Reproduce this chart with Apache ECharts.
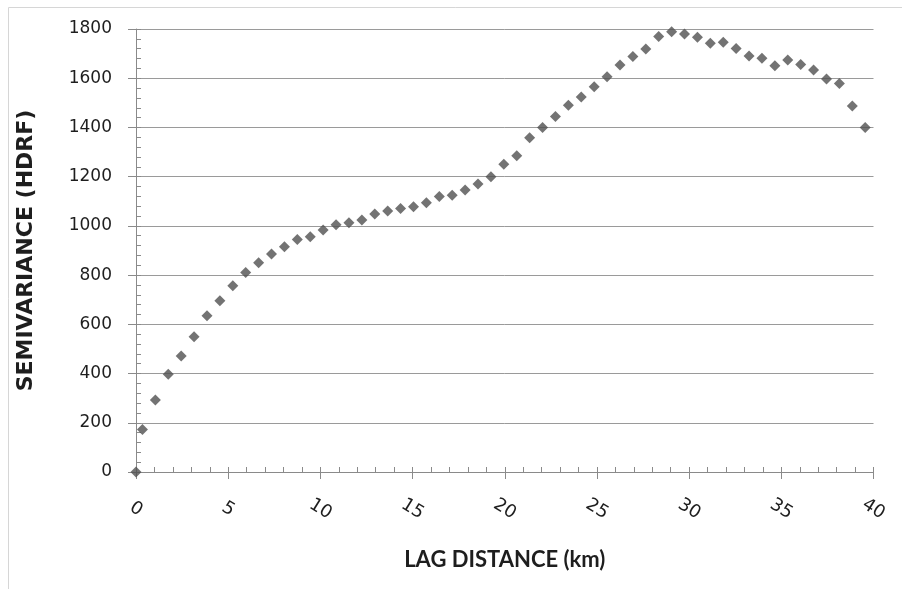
<!DOCTYPE html>
<html>
<head>
<meta charset="utf-8">
<title>Semivariogram</title>
<script src="https://cdn.jsdelivr.net/npm/echarts@6.0.0/dist/echarts.min.js"></script>
<style>
  html, body { margin: 0; padding: 0; background: #ffffff; }
  #chart { width: 902px; height: 589px; }
</style>
</head>
<body>
<div id="chart"></div>
<script>
// Lag distances (km) and the experimental semivariance at each lag
const lagKm = [
  0, 0.35, 1.05, 1.75, 2.45, 3.15, 3.85, 4.55, 5.25, 5.95, 6.65,
  7.35, 8.05, 8.75, 9.45, 10.15, 10.85, 11.55, 12.25, 12.95, 13.65,
  14.35, 15.05, 15.75, 16.45, 17.15, 17.85, 18.55, 19.25, 19.95, 20.65,
  21.35, 22.05, 22.75, 23.45, 24.15, 24.85, 25.55, 26.25, 26.95, 27.65,
  28.35, 29.05, 29.75, 30.45, 31.15, 31.85, 32.55, 33.25, 33.95, 34.65,
  35.35, 36.05, 36.75, 37.45, 38.15, 38.85, 39.55
];
const semivariance = [
  0, 173, 293, 397, 471, 550, 635, 696, 757, 811, 850,
  886, 915, 945, 956, 983, 1005, 1013, 1024, 1048, 1060,
  1071, 1078, 1094, 1119, 1125, 1146, 1170, 1200, 1250, 1285,
  1358, 1400, 1444, 1490, 1524, 1565, 1606, 1654, 1688, 1719,
  1770, 1789, 1780, 1766, 1742, 1746, 1721, 1690, 1681, 1651,
  1674, 1656, 1633, 1597, 1579, 1487, 1400
];
const xTicks = [0, 5, 10, 15, 20, 25, 30, 35, 40];
const yTicks = [0, 200, 400, 600, 800, 1000, 1200, 1400, 1600, 1800];

const xTitle = 'LAG DISTANCE (km)';
const yTitle = 'SEMIVARIANCE (HDRF)';

const axisGray = '#8a8a8a';
const gridGray = '#9a9a9a';
const textColor = '#1e1e1e';
const markerColor = '#505050';

const points = lagKm.map((x, i) => [x, semivariance[i]]);

const chart = echarts.init(document.getElementById('chart'), null, { renderer: 'canvas' });

chart.setOption({
  backgroundColor: '#ffffff',
  animation: false,
  graphic: [{
    type: 'rect',
    shape: { x: 8.5, y: 7.5, width: 920, height: 620 },
    style: { fill: 'none', stroke: '#d6d6d6', lineWidth: 1 },
    silent: true
  }],
  grid: { left: 136, right: 28.5, top: 29, bottom: 117 },
  xAxis: [{
    type: 'value',
    min: xTicks[0],
    max: xTicks[xTicks.length - 1],
    interval: xTicks[1] - xTicks[0],
    name: xTitle,
    nameLocation: 'middle',
    nameGap: 77,
    nameTextStyle: { fontFamily: 'Lato', fontWeight: 'bold', fontSize: 22, color: textColor },
    axisLine: { show: true, lineStyle: { color: axisGray, width: 1 } },
    axisTick: { show: true, inside: false, length: 7, lineStyle: { color: axisGray } },
    axisLabel: {
      rotate: -32,
      margin: 37,
      align: 'center',
      verticalAlign: 'middle',
      fontFamily: 'DejaVu Sans',
      fontSize: 18,
      color: textColor,
      formatter: v => String(v)
    },
    splitLine: { show: false }
  }, {
    // minor ticks every kilometre, pointing into the plot
    type: 'value',
    min: 0,
    max: 40,
    interval: 1,
    position: 'bottom',
    axisLine: { show: false },
    axisTick: { show: true, inside: true, length: 5, lineStyle: { color: axisGray } },
    axisLabel: { show: false },
    splitLine: { show: false }
  }],
  yAxis: [{
    type: 'value',
    min: yTicks[0],
    max: yTicks[yTicks.length - 1],
    interval: yTicks[1] - yTicks[0],
    name: yTitle,
    nameLocation: 'middle',
    nameGap: 99,
    nameRotate: 90,
    nameTextStyle: { fontFamily: 'DejaVu Sans', fontWeight: 'bold', fontSize: 22, color: textColor },
    axisLine: { show: true, lineStyle: { color: axisGray, width: 1 } },
    axisTick: { show: true, inside: false, length: 8, lineStyle: { color: axisGray } },
    axisLabel: {
      margin: 24,
      fontFamily: 'DejaVu Sans',
      fontSize: 17,
      color: textColor,
      formatter: v => String(v)
    },
    splitLine: { show: true, lineStyle: { color: gridGray, width: 1 } }
  }, {
    // minor ticks every 40 units, pointing into the plot
    type: 'value',
    min: 0,
    max: 1800,
    interval: 40,
    position: 'left',
    axisLine: { show: false },
    axisTick: { show: true, inside: true, length: 5, lineStyle: { color: axisGray } },
    axisLabel: { show: false },
    splitLine: { show: false }
  }],
  series: [{
    type: 'scatter',
    xAxisIndex: 0,
    yAxisIndex: 0,
    data: points,
    symbol: 'diamond',
    symbolSize: 11,
    itemStyle: { color: markerColor },
    z: 5
  }]
});
</script>
</body>
</html>
